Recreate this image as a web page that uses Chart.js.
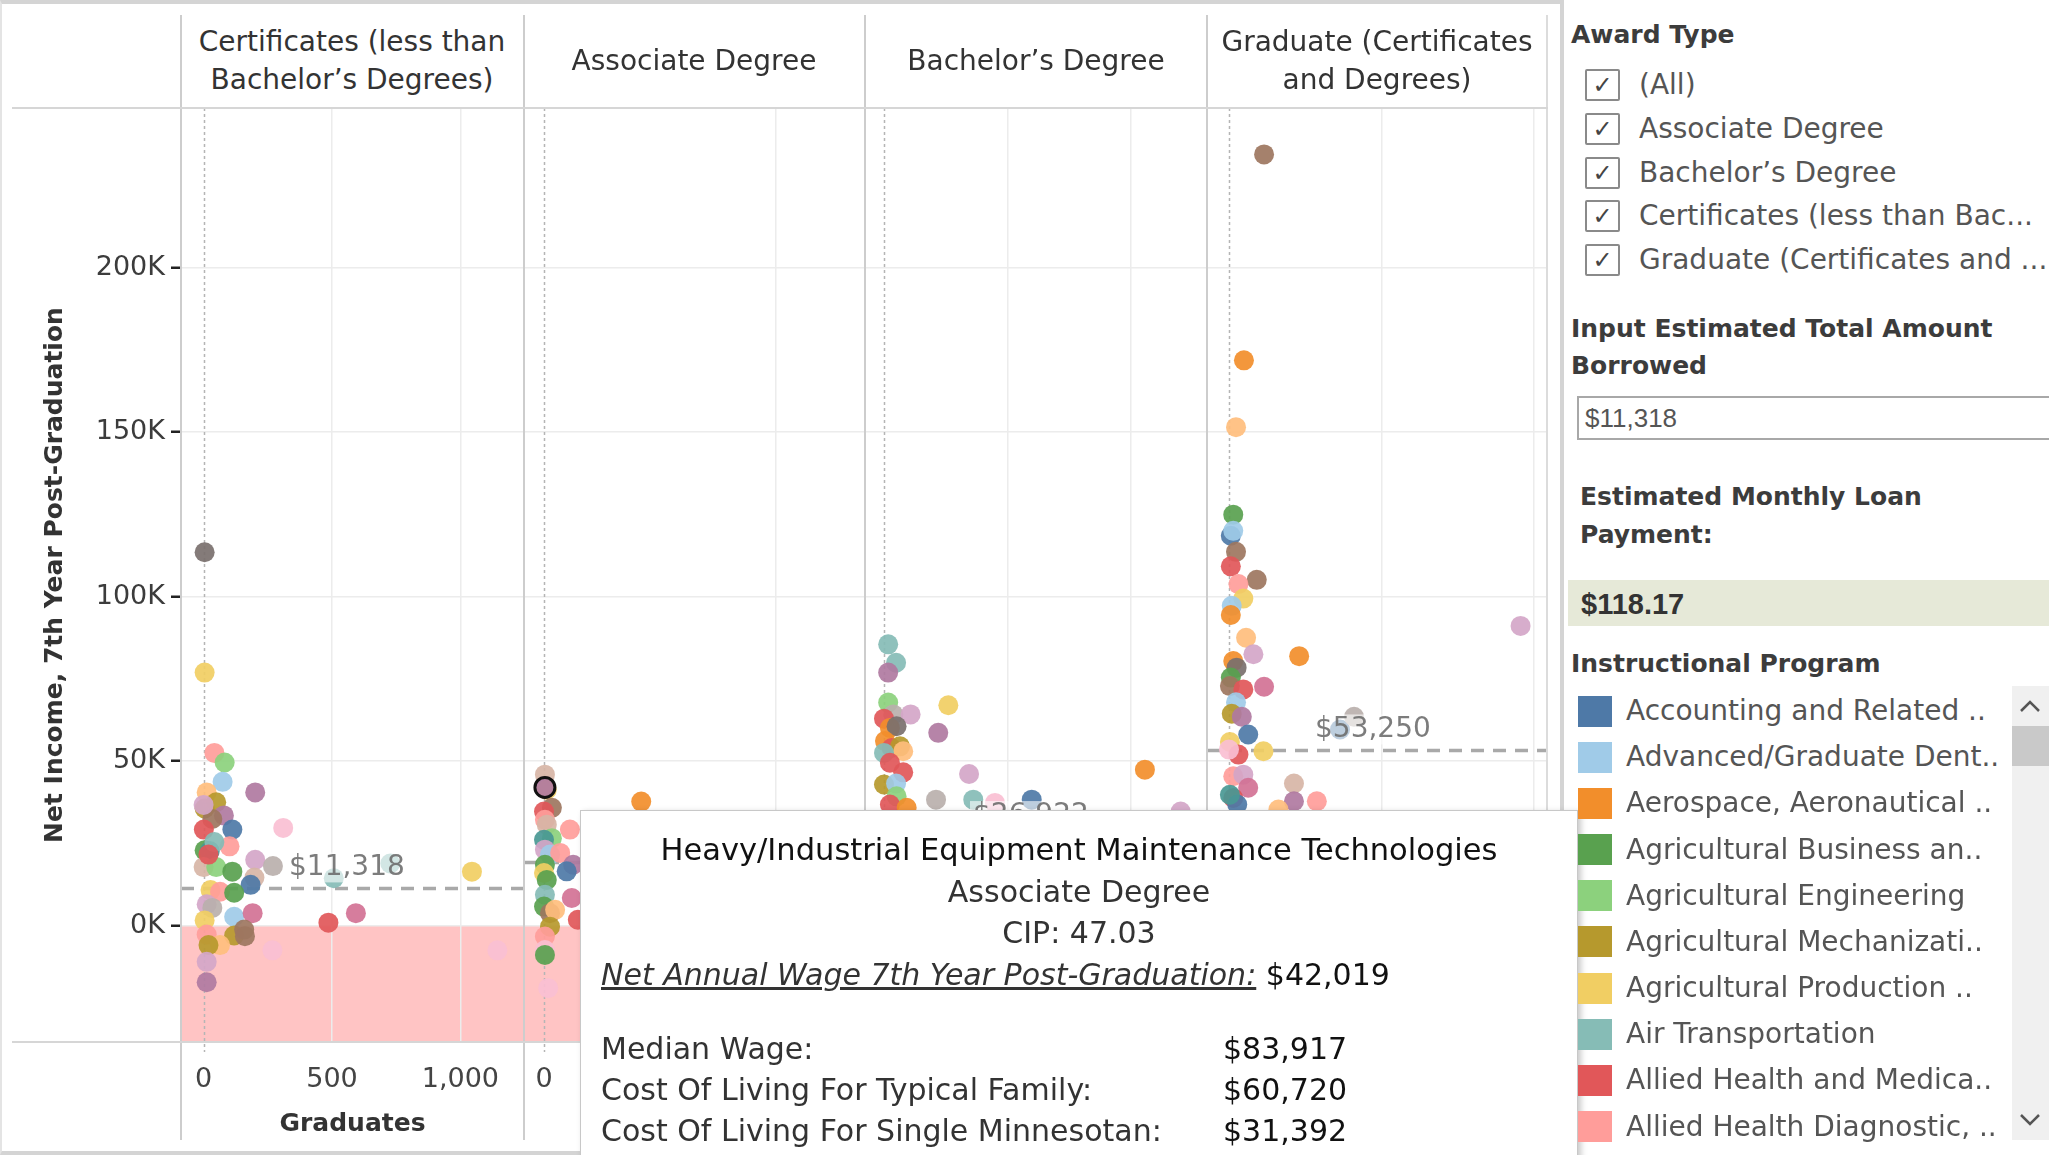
<!DOCTYPE html>
<html>
<head>
<meta charset="utf-8">
<title>Net Income 7th Year Post-Graduation by Award Type</title>
<script src="https://cdn.jsdelivr.net/npm/chart.js@4.4.1/dist/chart.umd.min.js"></script>
<style>
  html, body { margin: 0; padding: 0; background: #fff; }
  body { width: 2049px; height: 1155px; position: relative; overflow: hidden; font-family: 'DejaVu Sans', sans-serif; }
  .frame { position: absolute; left: 0; top: 0; width: 1564px; height: 1155px; box-sizing: border-box;
           border: 4px solid #d4d4d4; border-left: 2px solid #e4e4e4; }
  canvas { position: absolute; top: 108px; }
  .vline { position: absolute; width: 2px; background: #cdcdcd; }
  .hline { position: absolute; height: 2px; background: #d6d6d6; }
  .head { position: absolute; text-align: center; font-size: 28px; line-height: 38px; color: #333; white-space: nowrap; }
  .tip { position: absolute; left: 580px; top: 810px; width: 998px; height: 380px; box-sizing: border-box;
         background: #fff; border: 1px solid #c8c8c8; box-shadow: 3px 2px 6px rgba(0,0,0,0.22); font-size: 30px; color: #333; }
  .tip div { position: absolute; line-height: 40px; white-space: nowrap; }
  .tip .c { left: 0; right: 0; text-align: center; }
  .side { position: absolute; white-space: nowrap; }
  .side-title { font-size: 25px; font-weight: bold; color: #3c3c3c; line-height: 38px; }
  .check { position: absolute; left: 1585px; width: 35px; height: 32px; box-sizing: border-box; border: 2px solid #8a8a8a;
           border-radius: 2px; text-align: center; font-size: 24px; line-height: 28px; color: #444; }
  .item { position: absolute; font-size: 28px; line-height: 40px; color: #555; white-space: nowrap; }
  .swatch { position: absolute; left: 1578px; width: 34px; height: 31px; }
</style>
</head>
<body>
<div class="frame"></div>

<canvas id="panel0" width="524" height="1047" style="left:0px"></canvas>
<canvas id="panel1" width="341" height="1047" style="left:524px"></canvas>
<canvas id="panel2" width="342" height="1047" style="left:865px"></canvas>
<canvas id="panel3" width="340" height="1047" style="left:1207px"></canvas>

<div class="vline" style="left:180px; top:15px; height:1125px"></div>
<div class="vline" style="left:523px; top:15px; height:1125px"></div>
<div class="vline" style="left:864px; top:15px; height:1125px"></div>
<div class="vline" style="left:1206px; top:15px; height:1125px"></div>
<div class="vline" style="left:1546px; top:15px; height:1125px; background:#dcdcdc"></div>
<div class="hline" style="left:12px; top:107px; width:1536px"></div>
<div class="hline" style="left:12px; top:1041px; width:1536px"></div>

<div id="heads"></div>

<div class="tip">
  <div class="c" style="top:19px; color:#111; font-size:30.5px">Heavy/Industrial Equipment Maintenance Technologies</div>
  <div class="c" style="top:61px">Associate Degree</div>
  <div class="c" style="top:102px">CIP: 47.03</div>
  <div style="top:144px; left:20px"><span style="font-style:italic; text-decoration:underline">Net Annual Wage 7th Year Post-Graduation:</span> <span style="color:#111">$42,019</span></div>
  <div style="top:218px; left:20px">Median Wage:</div>
  <div style="top:218px; left:642px; color:#111">$83,917</div>
  <div style="top:259px; left:20px">Cost Of Living For Typical Family:</div>
  <div style="top:259px; left:642px; color:#111">$60,720</div>
  <div style="top:300px; left:20px">Cost Of Living For Single Minnesotan:</div>
  <div style="top:300px; left:642px; color:#111">$31,392</div>
</div>

<div class="side side-title" style="left:1571px; top:16px">Award Type</div>
<div id="filters"></div>
<div class="side side-title" style="left:1571px; top:310px">Input Estimated Total Amount</div>
<div class="side side-title" style="left:1571px; top:347px">Borrowed</div>
<div class="side" style="left:1577px; top:396px; width:480px; height:44px; box-sizing:border-box; border:2px solid #a8a8a8;"></div>
<div class="side" style="left:1585px; top:400px; font-family:'Liberation Sans', sans-serif; font-size:26px; line-height:36px; color:#555">$11,318</div>
<div class="side side-title" style="left:1580px; top:478px">Estimated Monthly Loan</div>
<div class="side side-title" style="left:1580px; top:516px">Payment:</div>
<div class="side" style="left:1568px; top:580px; width:481px; height:46px; background:#e6e9d8"></div>
<div class="side" style="left:1581px; top:586px; font-family:'Liberation Sans', sans-serif; font-weight:bold; font-size:29px; line-height:36px; color:#333">$118.17</div>
<div class="side side-title" style="left:1571px; top:645px">Instructional Program</div>
<div id="legend"></div>
<div class="side" style="left:2012px; top:686px; width:37px; height:454px; background:#f0f0f0"></div>
<div class="side" style="left:2012px; top:726px; width:37px; height:40px; background:#c9c9c9"></div>
<svg class="side" style="left:2019px; top:699px" width="22" height="14"><polyline points="2,12 11,3 20,12" fill="none" stroke="#555" stroke-width="2.5"/></svg>
<svg class="side" style="left:2019px; top:1113px" width="22" height="14"><polyline points="2,2 11,11 20,2" fill="none" stroke="#555" stroke-width="2.5"/></svg>

<script>
// Tableau 20 colours, indexed by instructional program
const programColors = ['#4e79a7', '#a0cbe8', '#f28e2b', '#ffbe7d', '#59a14f', '#8cd17d', '#b6992d', '#f1ce63', '#499894', '#86bcb6',
                       '#e15759', '#ff9d9a', '#79706e', '#bab0ac', '#d37295', '#fabfd2', '#b07aa1', '#d4a6c8', '#9d7660', '#d7b5a6'];
const legendNames = ['Accounting and Related ..', 'Advanced/Graduate Dent..', 'Aerospace, Aeronautical ..', 'Agricultural Business an..',
                     'Agricultural Engineering', 'Agricultural Mechanizati..', 'Agricultural Production ..', 'Air Transportation',
                     'Allied Health and Medica..', 'Allied Health Diagnostic, ..'];
const legendProgram = [0, 1, 2, 4, 5, 6, 7, 9, 10, 11];

const awardFilters = ['(All)', 'Associate Degree', 'Bachelor’s Degree', 'Certificates (less than Bac...', 'Graduate (Certificates and ...'];
const panelTitles = [['Certificates (less than', 'Bachelor’s Degrees)'], ['Associate Degree'], ['Bachelor’s Degree'], ['Graduate (Certificates', 'and Degrees)']];

const yTickValues = [0, 50000, 100000, 150000, 200000];
const xTickValues = [0, 500, 1000];

// reference line per award type (estimated amount borrowed)
const refBorrowed = [11318, 19215, 26922, 53250];

// Certificates (less than Bachelor's)
const certGraduates = [4, 4, 42, 82, 74, 201, 12, 49, 4, 79, 34, 0, 1, 112, 310, 101, 4, 24, 42, 201, 270, 0, 49, 112, 507,
                       727, 1045, 198, 183, 27, 64, 119, 12, 34, 119, 191, 486, 593, 4, 119, 158, 161, 12, 64, 19, 268, 1144, 12, 12, 19];
const certNetIncome = [113500, 76900, 52500, 49600, 43700, 40500, 40500, 37500, 35600, 33500, 32400, 36700, 29200, 29200, 29700, 24100, 22900, 22700, 25400, 20000,
                       18100, 17800, 17800, 16400, 14400, 18900, 16400, 14600, 12400, 10800, 10300, 10000, 6500, 5400, 2700, 3800, 900, 3800, 1600, -3000,
                       -1200, -3200, -2700, -5900, -5900, -7500, -7500, -11000, -17200, 21600];
const certProgram = [12, 7, 11, 5, 1, 16, 3, 6, 6, 16, 18, 17, 10, 0, 15, 11, 4, 8, 9, 17, 13, 19, 5, 4, 9,
                     9, 7, 19, 0, 7, 11, 4, 17, 13, 1, 14, 10, 14, 7, 6, 18, 18, 11, 3, 6, 15, 15, 17, 16, 10];

// Associate Degree (last point is the one shown in the tooltip)
const assocGraduates = [2, 6, 17, 0, 2, 6, 56, 17, 0, 2, 13, 35, 63, 2, 0, 6, 49, 2, 60, 0, 13, 24, 73, 13, 2, 2, 2, 9, 210, 2];
const assocNetIncome = [45900, 41300, 35800, 34700, 32200, 30700, 29200, 26600, 26100, 23100, 21600, 22100, 18500, 18500, 16000, 13900, 16500, 9400, 8400, 5800,
                        3800, 4800, 1800, -300, -3300, -7400, -8900, -19000, 37700, 42019];
const assocProgram = [19, 7, 18, 10, 11, 19, 11, 5, 8, 17, 1, 11, 16, 4, 7, 4, 0, 9, 14, 4, 18, 3, 10, 6, 11, 15, 4, 15, 2, 16];
const assocHighlight = 29;

// Bachelor's Degree
const bachGraduates = [17, 49, 17, 17, 38, 0, 108, 261, 220, 24, 51, 4, 31, 65, 78, 0, 24, 78, 345, 1058, 0, 49, 51, 24, 211, 362, 450, 599, 1203, 92];
const bachNetIncome = [85500, 79900, 76900, 67800, 64200, 62900, 64200, 67000, 58600, 60100, 60600, 56100, 54000, 54500, 53000, 52500, 49500, 46600, 46100, 47400,
                       42900, 43200, 39300, 36800, 38300, 38300, 37300, 38300, 34700, 35800];
const bachProgram = [9, 9, 16, 5, 13, 10, 17, 7, 16, 2, 12, 2, 10, 6, 3, 9, 10, 10, 17, 2, 6, 1, 5, 10, 13, 9, 15, 0, 17, 2];

// Graduate (Certificates and Degrees)
const gradGraduates = [115, 49, 23, 14, 6, 14, 23, 6, 91, 31, 47, 9, 6, 56, 80, 230, 956, 14, 25, 6, 3, 115, 47, 23, 9, 42, 364, 410, 63, 3,
                       31, 113, 0, 14, 47, 63, 213, 213, 288, 14, 27, 3, 162];
const gradNetIncome = [234400, 171800, 151500, 124900, 118500, 120000, 113600, 109200, 105100, 103800, 99400, 97200, 94400, 87500, 82500, 81900, 91100, 80400, 78400, 75400,
                       72800, 72600, 71800, 67900, 64400, 63500, 59600, 63500, 58100, 55800, 52000, 53000, 53500, 45400, 45900, 41900, 43200, 37800, 37800, 38800,
                       36800, 39800, 35300];
const gradProgram = [18, 2, 3, 4, 0, 1, 18, 10, 18, 11, 7, 1, 2, 3, 17, 2, 17, 2, 12, 4, 18, 14, 10, 1, 6, 16, 0, 13, 0, 7,
                     10, 7, 15, 11, 17, 14, 19, 16, 11, 10, 0, 8, 3];

const yMin = -35360, yMax = 248500;

function withAlpha(hex, a) {
    const n = parseInt(hex.slice(1), 16);
    return 'rgba(' + (n >> 16) + ',' + ((n >> 8) & 255) + ',' + (n & 255) + ',' + a + ')';
}

// keep the plot area exactly where the axis boxes end
function noScalePadding(s) {
    s.paddingTop = 0;
    s.paddingBottom = 0;
    s.paddingLeft = 0;
    s.paddingRight = 0;
}

// pink loss band, dotted zero line, dashed reference line with its label
const panelDecor = {
    id: 'panelDecor',
    beforeDraw(chart) {
        const {ctx, chartArea: a, scales: {y}} = chart;
        const top = y.getPixelForValue(0);
        ctx.save();
        ctx.fillStyle = '#ffc4c4';
        ctx.fillRect(a.left, top, a.right - a.left, a.bottom - top);
        ctx.restore();
    },
    beforeDatasetsDraw(chart, args, opts) {
        const {ctx, chartArea: a, scales: {x, y}} = chart;
        const x0 = Math.round(x.getPixelForValue(0)) + 0.5;
        ctx.save();
        ctx.strokeStyle = '#b5b5b5';
        ctx.lineWidth = 1.5;
        ctx.setLineDash([3, 3]);
        ctx.beginPath();
        ctx.moveTo(x0, a.top);
        ctx.lineTo(x0, a.bottom + 10);
        ctx.stroke();
        const ry = y.getPixelForValue(opts.value);
        ctx.strokeStyle = 'rgba(160,160,160,0.9)';
        ctx.lineWidth = 3.5;
        ctx.setLineDash([13, 9]);
        ctx.beginPath();
        ctx.moveTo(a.left, ry);
        ctx.lineTo(a.right, ry);
        ctx.stroke();
        ctx.restore();
    },
    afterDatasetsDraw(chart, args, opts) {
        const {ctx, chartArea: a, scales: {y}} = chart;
        const ry = y.getPixelForValue(opts.value) - 21;
        const text = '$' + opts.value.toLocaleString('en-US');
        ctx.save();
        ctx.font = "28px 'DejaVu Sans'";
        const w = ctx.measureText(text).width;
        const lx = a.left + 108;
        ctx.fillStyle = 'rgba(255,255,255,0.6)';
        ctx.fillRect(lx - 3, ry - 15, w + 6, 30);
        ctx.fillStyle = 'rgba(110,110,110,0.9)';
        ctx.textBaseline = 'middle';
        ctx.fillText(text, lx, ry);
        ctx.restore();
    }
};

Chart.defaults.font.family = "'DejaVu Sans', sans-serif";

function makePanel(id, grads, income, program, xMin, xMax, refValue, opts) {
    const points = grads.map((g, i) => ({x: g, y: income[i]}));
    const first = !!opts.first;
    return new Chart(document.getElementById(id), {
        type: 'scatter',
        data: {
            datasets: [{
                data: points,
                pointRadius: 10,
                pointHoverRadius: 10,
                pointBackgroundColor: program.map(p => withAlpha(programColors[p], 0.92)),
                pointBorderColor: '#111',
                pointBorderWidth: program.map((p, i) => i === opts.highlight ? 3 : 0)
            }]
        },
        options: {
            responsive: false,
            animation: false,
            events: [],
            layout: { padding: 0, autoPadding: false },
            plugins: {
                legend: { display: false },
                tooltip: { enabled: false },
                panelDecor: { value: refValue }
            },
            scales: {
                x: {
                    type: 'linear',
                    min: xMin,
                    max: xMax,
                    afterFit: s => { s.height = 113; noScalePadding(s); },
                    afterBuildTicks: s => { s.ticks = xTickValues.filter(v => v <= s.max).map(v => ({value: v})); },
                    border: { display: false },
                    grid: {
                        color: c => c.tick && c.tick.value === 0 ? 'rgba(0,0,0,0)' : '#ececec',
                        lineWidth: 1.5,
                        drawTicks: false
                    },
                    ticks: {
                        display: opts.xLabels,
                        padding: 22,
                        color: '#444',
                        font: { size: 27 },
                        maxRotation: 0,
                        autoSkip: false,
                        callback: v => v.toLocaleString('en-US')
                    },
                    title: {
                        display: true,
                        text: 'Graduates',
                        color: '#333',
                        font: { size: 25, weight: 'bold' },
                        padding: { top: 0, bottom: 16 }
                    }
                },
                y: {
                    min: yMin,
                    max: yMax,
                    afterFit: s => { s.width = first ? 181 : 0; noScalePadding(s); },
                    afterBuildTicks: s => { s.ticks = yTickValues.map(v => ({value: v})); },
                    border: { display: false },
                    grid: {
                        color: '#ececec',
                        lineWidth: 1.5,
                        drawTicks: first,
                        tickLength: first ? 10 : 0,
                        tickWidth: 2.5,
                        tickColor: first ? '#222' : 'rgba(0,0,0,0)'
                    },
                    ticks: {
                        display: first,
                        padding: 6,
                        color: '#3c3c3c',
                        font: { size: 27 },
                        callback: v => (v / 1000) + 'K'
                    },
                    title: {
                        display: first,
                        text: 'Net Income, 7th Year Post-Graduation',
                        color: '#333',
                        font: { size: 25, weight: 'bold' },
                        padding: { top: 40, bottom: 0 }
                    }
                }
            }
        },
        plugins: [panelDecor]
    });
}

makePanel('panel0', certGraduates, certNetIncome, certProgram, -88, 1247.7, refBorrowed[0], { first: true, xLabels: true });
makePanel('panel1', assocGraduates, assocNetIncome, assocProgram, -43.2, 693.3, refBorrowed[1], { xLabels: true, highlight: assocHighlight });
makePanel('panel2', bachGraduates, bachNetIncome, bachProgram, -77, 1309.8, refBorrowed[2], { xLabels: false });
makePanel('panel3', gradGraduates, gradNetIncome, gradProgram, -72.1, 1042.6, refBorrowed[3], { xLabels: false });

// column headers
const headCenters = [352, 694, 1036, 1377];
const heads = document.getElementById('heads');
panelTitles.forEach((lines, i) => {
    const d = document.createElement('div');
    d.className = 'head';
    d.style.left = (headCenters[i] - 170) + 'px';
    d.style.width = '340px';
    d.style.top = (lines.length === 2 ? 23 : 42) + 'px';
    d.innerHTML = lines.join('<br>');
    heads.appendChild(d);
});

// award type filter
const filters = document.getElementById('filters');
awardFilters.forEach((name, i) => {
    const cy = 85 + i * 43.8;
    const box = document.createElement('div');
    box.className = 'check';
    box.style.top = (cy - 16) + 'px';
    box.textContent = '\u2713';
    filters.appendChild(box);
    const lab = document.createElement('div');
    lab.className = 'item';
    lab.style.left = '1639px';
    lab.style.top = (cy - 20) + 'px';
    lab.textContent = name;
    filters.appendChild(lab);
});

// instructional program colour legend
const legend = document.getElementById('legend');
legendNames.forEach((name, i) => {
    const cy = 711 + i * 46.17;
    const sw = document.createElement('div');
    sw.className = 'swatch';
    sw.style.top = (cy - 15.5) + 'px';
    sw.style.background = programColors[legendProgram[i]];
    legend.appendChild(sw);
    const lab = document.createElement('div');
    lab.className = 'item';
    lab.style.left = '1626px';
    lab.style.top = (cy - 20) + 'px';
    lab.textContent = name;
    legend.appendChild(lab);
});
</script>
</body>
</html>
